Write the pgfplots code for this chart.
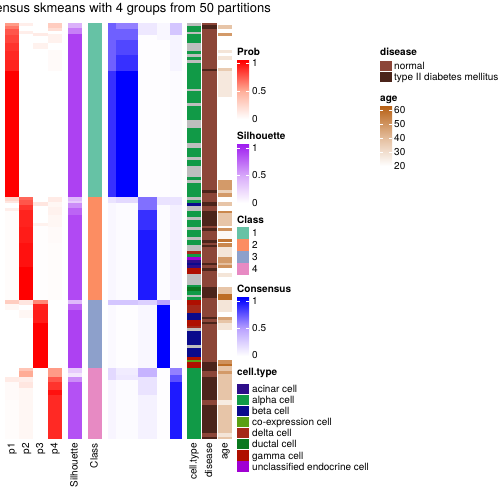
\documentclass[border=0pt]{standalone}
\usepackage{pgfplots}
\pgfplotsset{compat=1.18}
\usepackage{pgfplotstable}
\usepackage{fontspec}
\setmainfont{TeX Gyre Heros}

\definecolor{k1}{HTML}{66C2A5}\definecolor{k2}{HTML}{FC8D62}
\definecolor{k3}{HTML}{8DA0CB}\definecolor{k4}{HTML}{E78AC3}
\definecolor{cgrey}{HTML}{BEBEBE}
\definecolor{cacinar}{RGB}{46,14,138}\definecolor{calpha}{RGB}{17,154,71}
\definecolor{cbeta}{RGB}{10,10,140}\definecolor{ccoexp}{RGB}{90,160,20}
\definecolor{cdelta}{RGB}{165,40,25}\definecolor{cductal}{RGB}{10,120,30}
\definecolor{cgamma}{RGB}{175,15,0}\definecolor{cuncl}{RGB}{160,0,210}
\definecolor{cnormal}{RGB}{140,70,56}\definecolor{ct2d}{RGB}{75,36,26}
\definecolor{csil}{RGB}{160,32,240}\definecolor{cage}{RGB}{185,100,25}
\definecolor{mred}{RGB}{255,172,150}\definecolor{mpur}{RGB}{215,168,250}
\definecolor{mblu}{RGB}{184,160,255}\definecolor{mbrn}{RGB}{228,190,158}

\def\hh{1}
\pgfdeclareplotmark{cell}{%
  \pgfpathrectangle{\pgfpoint{-\pgfplotmarksize}{-0.5*\hh pt}}{\pgfpoint{2*\pgfplotmarksize}{\hh pt}}%
  \pgfusepathqfill}

\pgfplotsset{
  colormap={cred}{rgb255(0cm)=(255,255,255); rgb255(1cm)=(255,172,150); rgb255(2cm)=(255,0,0)},
  colormap={cpur}{rgb255(0cm)=(255,255,255); rgb255(1cm)=(215,168,250); rgb255(2cm)=(160,32,240)},
  colormap={cblu}{rgb255(0cm)=(255,255,255); rgb255(1cm)=(184,160,255); rgb255(2cm)=(0,0,255)},
  colormap={cbrn}{rgb255(0cm)=(255,255,255); rgb255(1cm)=(228,190,158); rgb255(2cm)=(185,100,25)},
  contcol/.style={scatter, only marks, mark=cell,
    scatter/use mapped color={draw=mapped color,fill=mapped color},
    visualization depends on={\thisrow{b}-\thisrow{t}\as\hh}},
  catcol/.style={scatter, only marks, mark=cell, point meta=explicit symbolic,
    visualization depends on={\thisrow{b}-\thisrow{t}\as\hh}},
}

% segments: top, bottom (pixel rows), value
\pgfplotstableread[row sep=\\]{t b v\\ 23 26 .55\\ 26 29 .65\\ 29 35 .75\\ 35 43 .8\\ 43 51 .85\\ 51 60 .88\\ 60 71 .9\\ 71 197 1\\ 197 201 .25\\ 201 203 .15\\ 203 208 0\\ 208 211 .1\\ 211 300 .02\\ 300 304 .3\\ 304 310 .05\\ 310 377 0\\ 377 382 .12\\ 382 400 .03\\ 400 439 .02\\}\pone
\pgfplotstableread[row sep=\\]{t b v\\ 23 26 .1\\ 26 31 0\\ 31 34 .1\\ 34 197 0\\ 197 200 .7\\ 200 205 .75\\ 205 210 .85\\ 210 227 .9\\ 227 243 .92\\ 243 267 .95\\ 267 300 1\\ 300 305 .15\\ 305 310 0\\ 310 318 .05\\ 318 368 0\\ 368 371 .35\\ 371 377 .5\\ 377 382 .1\\ 382 388 .15\\ 388 439 .05\\}\ptwo
\pgfplotstableread[row sep=\\]{t b v\\ 23 33 0\\ 33 36 .12\\ 36 43 0\\ 43 49 .08\\ 49 202 0\\ 202 206 .15\\ 206 223 0\\ 223 226 .08\\ 226 300 .01\\ 300 304 .6\\ 304 310 .9\\ 310 323 .92\\ 323 368 1\\ 368 439 0\\}\pthree
\pgfplotstableread[row sep=\\]{t b v\\ 23 28 .3\\ 28 31 .2\\ 31 34 0\\ 34 43 .08\\ 43 50 0\\ 50 71 .03\\ 71 197 0\\ 197 202 .12\\ 202 207 .05\\ 207 215 .08\\ 215 227 .05\\ 227 243 .03\\ 243 300 .02\\ 300 368 0\\ 368 377 .55\\ 377 382 .75\\ 382 390 .85\\ 390 395 .95\\ 395 439 .88\\}\pfour
\pgfplotstableread[row sep=\\]{t b v\\ 23 28 .45\\ 28 34 .65\\ 34 197 .88\\ 197 201 .4\\ 201 203 .3\\ 203 208 .6\\ 208 215 .75\\ 215 300 .85\\ 300 304 .4\\ 304 310 .75\\ 310 368 .88\\ 368 373 .3\\ 373 377 .15\\ 377 382 .6\\ 382 439 .82\\}\sil
\pgfplotstableread[row sep=\\]{t b v\\ 23 71 .7\\ 71 197 .85\\ 197 203 .15\\ 203 300 .04\\ 300 305 .3\\ 305 368 .03\\ 368 380 .2\\ 380 439 .05\\}\cona
\pgfplotstableread[row sep=\\]{t b v\\ 23 29 .6\\ 29 40 .7\\ 40 55 .78\\ 55 71 .85\\ 71 197 1\\ 197 203 .2\\ 203 300 .02\\ 300 305 .3\\ 305 368 .01\\ 368 375 .1\\ 375 380 .12\\ 380 439 .02\\}\conb
\pgfplotstableread[row sep=\\]{t b v\\ 23 35 .12\\ 35 197 .01\\ 197 210 .65\\ 210 230 .85\\ 230 300 .92\\ 300 305 .25\\ 305 368 .04\\ 368 377 .4\\ 377 395 .15\\ 395 439 .07\\}\conc
\pgfplotstableread[row sep=\\]{t b v\\ 23 40 .04\\ 40 197 .01\\ 197 205 .15\\ 205 300 .02\\ 300 305 .5\\ 305 368 1\\ 368 439 .01\\}\cond
\pgfplotstableread[row sep=\\]{t b v\\ 23 35 .3\\ 35 71 .06\\ 71 197 .02\\ 197 205 .15\\ 205 300 .08\\ 300 368 .01\\ 368 375 .6\\ 375 382 .75\\ 382 439 .92\\}\cone
\pgfplotstableread[row sep=\\]{t b v\\ 23 25 20\\ 25 29 38\\ 29 33 20\\ 33 36 48\\ 36 50 20\\ 50 53 28\\ 53 56 20\\ 56 60 28\\ 60 68 20\\ 68 71 36\\ 71 97 27\\ 97 180 20\\ 180 190 48\\ 190 193 34\\ 193 197 48\\ 197 202 20\\ 202 206 38\\ 206 211 20\\ 211 213 52\\ 213 226 38\\ 226 228 20\\ 228 231 50\\ 231 239 22\\ 239 242 56\\ 242 243 20\\ 243 247 52\\ 247 257 28\\ 257 263 48\\ 263 265 40\\ 265 268 50\\ 268 273 20\\ 273 277 28\\ 277 287 20\\ 287 294 38\\ 294 300 58\\ 300 312 28\\ 312 317 20\\ 317 320 46\\ 320 323 38\\ 323 330 28\\ 330 360 20\\ 360 364 50\\ 364 366 58\\ 366 371 38\\ 371 374 48\\ 374 400 38\\ 400 405 26\\ 405 433 38\\ 433 437 28\\ 437 439 38\\}\age
\pgfplotstableread[row sep=\\]{t b v\\ 23 197 c1\\ 197 300 c2\\ 300 368 c3\\ 368 439 c4\\}\cls
\pgfplotstableread[row sep=\\]{t b v\\ 23 26 g\\ 26 32 al\\ 32 34 g\\ 34 43 al\\ 43 51 g\\ 51 54 al\\ 54 57 g\\ 57 60 al\\ 60 63 g\\ 63 89 al\\ 89 91 g\\ 91 103 al\\ 103 106 g\\ 106 120 al\\ 120 128 g\\ 128 143 al\\ 143 148 g\\ 148 157 al\\ 157 160 g\\ 160 166 al\\ 166 177 g\\ 177 180 al\\ 180 183 g\\ 183 197 al\\ 197 200 g\\ 200 203 al\\ 203 206 be\\ 206 211 g\\ 211 217 al\\ 217 220 g\\ 220 227 al\\ 227 230 g\\ 230 237 al\\ 237 240 g\\ 240 245 al\\ 245 251 g\\ 251 254 de\\ 254 257 al\\ 257 260 un\\ 260 263 ac\\ 263 265 be\\ 265 268 ac\\ 268 274 ga\\ 274 285 g\\ 285 287 al\\ 287 291 du\\ 291 295 al\\ 295 297 g\\ 297 300 al\\ 300 305 ga\\ 305 313 de\\ 313 320 be\\ 320 326 ga\\ 326 328 de\\ 328 331 g\\ 331 345 be\\ 345 348 g\\ 348 357 be\\ 357 360 ga\\ 360 362 co\\ 362 368 ga\\ 368 439 al\\}\ctype
\pgfplotstableread[row sep=\\]{t b v\\ 23 25 n\\ 25 29 t\\ 29 69 n\\ 69 71 t\\ 71 190 n\\ 190 193 t\\ 193 202 n\\ 202 206 t\\ 206 211 n\\ 211 226 t\\ 226 228 n\\ 228 231 t\\ 231 240 n\\ 240 243 t\\ 243 245 n\\ 245 247 t\\ 247 263 n\\ 263 265 t\\ 265 268 n\\ 268 271 t\\ 271 287 n\\ 287 298 t\\ 298 317 n\\ 317 319 t\\ 319 322 n\\ 322 324 t\\ 324 362 n\\ 362 371 t\\ 371 377 n\\ 377 400 t\\ 400 405 n\\ 405 433 t\\ 433 437 n\\ 437 439 t\\}\dis

\begin{document}
\begin{tikzpicture}[
  lab/.style={font=\fontsize{10}{12}\selectfont, inner sep=0pt},
  ttl/.style={font=\fontsize{10}{12}\selectfont\bfseries, inner sep=0pt, anchor=base west},
  num/.style={font=\fontsize{10}{12}\selectfont, inner sep=0pt, anchor=base west}]
\begin{axis}[at={(0,0)}, anchor=south west, scale only axis, width=504pt, height=504pt,
  xmin=0, xmax=504, ymin=0, ymax=504, y dir=reverse, axis lines=none, clip=false,
  point meta min=0, point meta max=1]
% probabilities
\addplot[contcol, colormap name=cred, mark size=7.2pt, point meta=\thisrow{v}] table[x expr=12.1, y expr=(\thisrow{t}+\thisrow{b})/2]{\pone};
\addplot[contcol, colormap name=cred, mark size=7.2pt, point meta=\thisrow{v}] table[x expr=26.4, y expr=(\thisrow{t}+\thisrow{b})/2]{\ptwo};
\addplot[contcol, colormap name=cred, mark size=7.2pt, point meta=\thisrow{v}] table[x expr=40.6, y expr=(\thisrow{t}+\thisrow{b})/2]{\pthree};
\addplot[contcol, colormap name=cred, mark size=7.2pt, point meta=\thisrow{v}] table[x expr=54.9, y expr=(\thisrow{t}+\thisrow{b})/2]{\pfour};
% silhouette
\addplot[contcol, colormap name=cpur, mark size=7pt, point meta=\thisrow{v}] table[x expr=75, y expr=(\thisrow{t}+\thisrow{b})/2]{\sil};
% class
\addplot[catcol, mark size=7pt, scatter/classes={c1={fill=k1},c2={fill=k2},c3={fill=k3},c4={fill=k4}}] table[x expr=95, y expr=(\thisrow{t}+\thisrow{b})/2, meta=v]{\cls};
% consensus
\addplot[contcol, colormap name=cblu, mark size=4.1pt, point meta=\thisrow{v}] table[x expr=112, y expr=(\thisrow{t}+\thisrow{b})/2]{\cona};
\addplot[contcol, colormap name=cblu, mark size=11.1pt, point meta=\thisrow{v}] table[x expr=127, y expr=(\thisrow{t}+\thisrow{b})/2]{\conb};
\addplot[contcol, colormap name=cblu, mark size=9.6pt, point meta=\thisrow{v}] table[x expr=147.5, y expr=(\thisrow{t}+\thisrow{b})/2]{\conc};
\addplot[contcol, colormap name=cblu, mark size=6.6pt, point meta=\thisrow{v}] table[x expr=163.5, y expr=(\thisrow{t}+\thisrow{b})/2]{\cond};
\addplot[contcol, colormap name=cblu, mark size=6.1pt, point meta=\thisrow{v}] table[x expr=176, y expr=(\thisrow{t}+\thisrow{b})/2]{\cone};
% annotations
\addplot[catcol, mark size=7pt, scatter/classes={g={fill=cgrey},al={fill=calpha},ac={fill=cacinar},be={fill=cbeta},co={fill=ccoexp},de={fill=cdelta},du={fill=cductal},ga={fill=cgamma},un={fill=cuncl}}] table[x expr=194, y expr=(\thisrow{t}+\thisrow{b})/2, meta=v]{\ctype};
\addplot[catcol, mark size=7.4pt, scatter/classes={n={fill=cnormal},t={fill=ct2d}}] table[x expr=209.5, y expr=(\thisrow{t}+\thisrow{b})/2, meta=v]{\dis};
\addplot[contcol, colormap name=cbrn, mark size=7pt, point meta={(\thisrow{v}-20)/40}] table[x expr=225, y expr=(\thisrow{t}+\thisrow{b})/2]{\age};
\end{axis}

\begin{scope}[x=1pt, y=-1pt, shift={(0pt,504pt)}]
% title
\node[anchor=base east, inner sep=0pt, font=\fontsize{13}{15}\selectfont] at (271,12.5) {Consensus skmeans with 4 groups from 50 partitions};
% column labels
\foreach \xx/\tt in {12.1/p1,26.4/p2,40.6/p3,54.9/p4,75/Silhouette,95/Class,194/cell.type,209.5/disease,225/age}
  \node[lab, rotate=90, anchor=mid east] at (\xx,443) {\tt};
% legend: Prob
\node[ttl] at (237,55.5) {Prob};
\shade[top color=mred, bottom color=white] (237,90) rectangle (249,119);
\shade[top color=red, bottom color=mred] (237,61) rectangle (249,91);
\node[num] at (252,66.5) {1};
\node[num] at (252,94.5) {0.5};
\node[num] at (252,122.5) {0};
\foreach \yy in {63,91} \draw[white, line width=0.6pt] (237,\yy)--(240,\yy) (246,\yy)--(249,\yy);
% Silhouette
\node[ttl] at (237,139.5) {Silhouette};
\shade[top color=mpur, bottom color=white] (237,175) rectangle (249,203);
\shade[top color=csil, bottom color=mpur] (237,145) rectangle (249,175.5);
\node[num] at (252,151.5) {1};
\node[num] at (252,178.5) {0.5};
\node[num] at (252,206.5) {0};
\foreach \yy in {148,175} \draw[white, line width=0.6pt] (237,\yy)--(240,\yy) (246,\yy)--(249,\yy);
% Class
\node[ttl] at (237,223.5) {Class};
\foreach \cc/\yy/\ll in {k1/233/1,k2/245/2,k3/257/3,k4/269/4} {
  \fill[\cc] (237,\yy-5.7) rectangle (249,\yy+5.7);
  \node[num] at (252,\yy+3.6) {\ll};
}
% Consensus
\node[ttl] at (237,292.5) {Consensus};
\shade[top color=mblu, bottom color=white] (237,328) rectangle (249,356);
\shade[top color=blue, bottom color=mblu] (237,298) rectangle (249,328.5);
\node[num] at (252,304.5) {1};
\node[num] at (252,331.5) {0.5};
\node[num] at (252,358.5) {0};
\foreach \yy in {301,328} \draw[white, line width=0.6pt] (237,\yy)--(240,\yy) (246,\yy)--(249,\yy);
% cell.type
\node[ttl] at (237,376) {cell.type};
\foreach \cc/\yy/\ll in {cacinar/389/acinar cell,calpha/400/alpha cell,cbeta/411/beta cell,ccoexp/422/co-expression cell,cdelta/433/delta cell,cductal/444/ductal cell,cgamma/455.5/gamma cell,cuncl/466.5/unclassified endocrine cell} {
  \fill[\cc] (237,\yy-5.3) rectangle (249,\yy+5.3);
  \node[num] at (252,\yy+3.6) {\ll};
}
% disease
\node[ttl] at (380,55.5) {disease};
\fill[cnormal] (380,61.5) rectangle (392,71.5);
\node[num] at (394,70) {normal};
\fill[ct2d] (380,72) rectangle (392,82);
\node[num] at (394,80.5) {type II diabetes mellitus};
% age
\node[ttl] at (380,102) {age};
\shade[top color=mbrn, bottom color=white] (380,138) rectangle (392,166);
\shade[top color=cage, bottom color=mbrn] (380,107) rectangle (392,138.5);
\foreach \yy/\ll in {110/60,124/50,138/40,152/30,166/20} \node[num] at (394,\yy+3.6) {\ll};
\foreach \yy in {110,124,138,152} \draw[white, line width=0.6pt] (380,\yy)--(383,\yy) (389,\yy)--(392,\yy);
\end{scope}
\pgfresetboundingbox
\useasboundingbox (0,0) rectangle (504pt,504pt);
\end{tikzpicture}
\end{document}
